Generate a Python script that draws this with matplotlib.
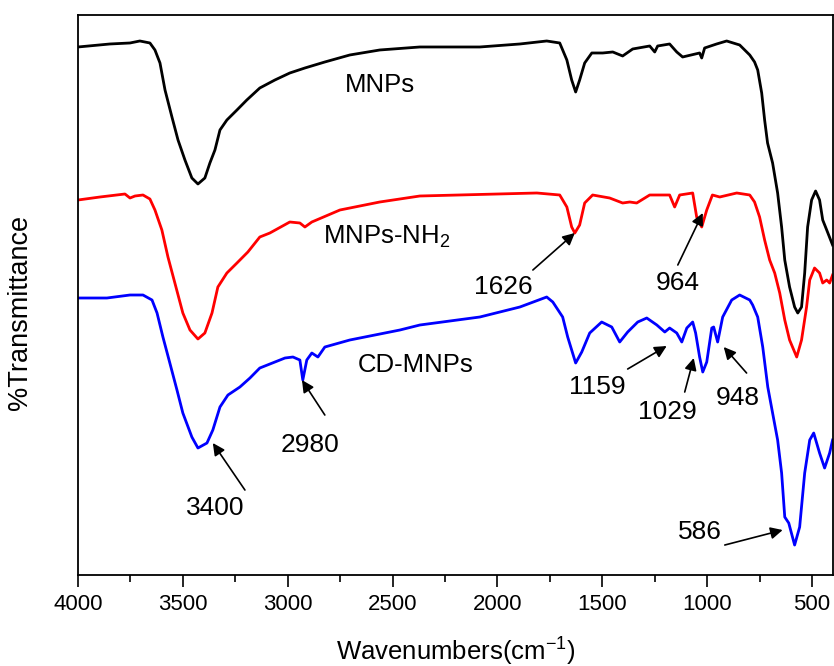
import matplotlib
matplotlib.use('Agg')
import matplotlib.pyplot as plt
from matplotlib.ticker import MultipleLocator

plt.rcParams['font.family'] = ['Liberation Sans', 'DejaVu Sans']

# FTIR spectra, values (arbitrary transmittance units)
wn_mnps = [4000, 3848, 3752, 3705, 3657, 3633, 3609, 3585, 3552, 3523, 3490, 3457, 3428, 3395,
           3371, 3347, 3323, 3290, 3242, 3195, 3133, 3061, 2990, 2918, 2823, 2704, 2561, 2370,
           2084, 1893, 1765, 1703, 1669, 1646, 1627, 1608, 1584, 1550, 1498, 1450, 1403, 1355,
           1274, 1250, 1236, 1179, 1145, 1117, 1036, 1026, 1012, 955, 907, 845, 821, 797, 774,
           759, 740, 726, 712, 688, 664, 645, 630, 607, 583, 568, 550, 535, 521, 502, 483, 464,
           449, 430, 402]
t_mnps = [528, 531, 532, 534, 532, 525, 512, 485, 458, 435, 415, 397, 391, 397,
          412, 425, 445, 455, 465, 475, 487, 495, 502, 507, 513, 520, 525, 528,
          528, 531, 534, 532, 515, 495, 483, 495, 512, 522, 522, 523, 519, 526,
          529, 523, 529, 531, 523, 518, 522, 517, 527, 531, 534, 530, 525, 520, 513,
          505, 482, 455, 432, 412, 382, 348, 315, 288, 268, 262, 268, 302, 348, 375, 384, 375,
          355, 345, 330]

wn_nh2 = [4000, 3895, 3776, 3752, 3728, 3690, 3657, 3633, 3600, 3571, 3538, 3500, 3466, 3428,
          3395, 3361, 3333, 3290, 3242, 3190, 3133, 3085, 2990, 2942, 2918, 2885, 2751, 2561,
          2370, 1812, 1703, 1669, 1646, 1631, 1608, 1584, 1546, 1465, 1403, 1369, 1336, 1274,
          1179, 1155, 1131, 1069, 1050, 1026, 1002, 975, 940, 859, 797, 774, 750, 726, 702,
          678, 654, 630, 607, 573, 550, 526, 511, 488, 464, 449, 430, 416, 402]
t_nh2 = [375, 378, 381, 377, 379, 380, 376, 365, 345, 318, 292, 262, 245, 236,
         242, 262, 288, 302, 312, 323, 338, 342, 353, 352, 348, 353, 365, 373,
         379, 382, 380, 368, 348, 342, 350, 372, 380, 377, 372, 373, 372, 380,
         380, 368, 380, 382, 358, 348, 365, 380, 378, 382, 380, 373, 358, 335, 315,
         302, 282, 255, 235, 218, 235, 268, 295, 307, 302, 292, 295, 292, 300]

wn_cd = [4000, 3862, 3752, 3690, 3647, 3623, 3595, 3562, 3528, 3500, 3457, 3428, 3385, 3357,
         3323, 3285, 3228, 3180, 3133, 3085, 3013, 2975, 2942, 2928, 2909, 2885, 2856, 2823,
         2704, 2465, 2370, 2084, 1893, 1765, 1736, 1689, 1665, 1627, 1598, 1560, 1503, 1455,
         1417, 1379, 1331, 1288, 1240, 1202, 1179, 1145, 1121, 1097, 1069, 1055, 1036, 1021,
         1002, 978, 969, 950, 926, 883, 845, 797, 783, 759, 735, 711, 688, 664, 645, 630,
         611, 583, 559, 535, 511, 492, 464, 440, 416, 402]
t_cd = [277, 277, 280, 280, 275, 262, 238, 212, 185, 162, 138, 127, 132, 145,
        168, 180, 188, 197, 207, 211, 217, 218, 215, 195, 215, 222, 218, 228,
        235, 245, 250, 258, 268, 278, 273, 258, 238, 212, 223, 242, 253, 248,
        233, 243, 253, 257, 250, 243, 247, 242, 233, 247, 253, 242, 218, 203,
        213, 247, 248, 233, 258, 275, 280, 275, 270, 258, 228, 188, 162, 135, 102, 58,
        52, 30, 48, 102, 135, 142, 122, 107, 122, 135]

# peak labels: text, text position, arrow tail, arrow head
peak_labels = ['1626', '964', '3400', '2980', '1159', '1029', '948', '586']
peak_text_xy = [(1974, 288), (1140, 292), (3347, 67), (2894, 130), (1522, 188),
                (1188, 163), (854, 177), (1036, 43)]
peak_tail_xy = [(1831, 305), (1140, 310), (3204, 85), (2823, 160), (1379, 206),
                (1107, 183), (812, 202), (916, 30)]
peak_head_xy = [(1631, 342), (1021, 362), (3357, 132), (2932, 195), (1193, 229),
                (1064, 217), (921, 228), (640, 45)]

fig = plt.figure(figsize=(8.34, 6.66), dpi=100)
ax = fig.add_axes([0.0935, 0.1366, 0.9053, 0.8409])

ax.plot(wn_mnps, t_mnps, color='black', lw=2)
ax.plot(wn_nh2, t_nh2, color='#ff0000', lw=2)
ax.plot(wn_cd, t_cd, color='#0000ff', lw=2)

ax.text(2727, 490, 'MNPs', fontsize=18.5, ha='left', va='center')
ax.text(2832, 338, 'MNPs-NH$_\\mathregular{2}$', fontsize=18.5, ha='left', va='center')
ax.text(2666, 210, 'CD-MNPs', fontsize=18.5, ha='left', va='center')

for lab, txy, tail, head in zip(peak_labels, peak_text_xy, peak_tail_xy, peak_head_xy):
    ax.text(txy[0], txy[1], lab, fontsize=19, ha='center', va='center')
    ax.annotate('', xy=head, xytext=tail,
                arrowprops=dict(arrowstyle='-|>', color='black', lw=1.2,
                                mutation_scale=18, shrinkA=0, shrinkB=0))

ax.set_xlim(4000, 400)
ax.set_ylim(0, 560)
ax.xaxis.set_major_locator(MultipleLocator(500))
ax.xaxis.set_minor_locator(MultipleLocator(250))
ax.tick_params(axis='x', which='major', direction='out', length=8.5, width=1.2,
               labelsize=16, pad=5)
ax.tick_params(axis='x', which='minor', direction='out', length=5, width=1.2)
ax.set_yticks([])
for s in ax.spines.values():
    s.set_linewidth(1.3)

ax.set_xlabel('Wavenumbers(cm$^\\mathregular{-1}$)', fontsize=18.5)
ax.set_ylabel('%Transmittance', fontsize=19.5)
ax.xaxis.set_label_coords(0.5, -0.105)
ax.yaxis.set_label_coords(-0.06, 0.468)

fig.savefig('out.png', dpi=100)
